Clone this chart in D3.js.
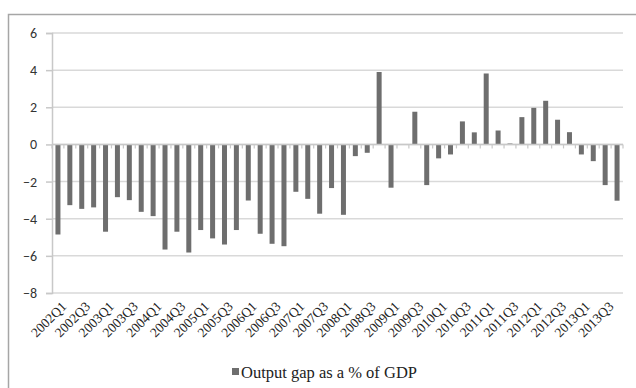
<!DOCTYPE html>
<html><head><meta charset="utf-8">
<script src="https://cdn.jsdelivr.net/npm/d3@7"></script>
<style>
html,body{margin:0;padding:0;background:#fff;}
svg{display:block;}
</style></head>
<body>
<svg id="chart" width="636" height="388"></svg>
<script>
const quarters = [];
for (let yr = 2002; yr <= 2013; yr++) for (let q = 1; q <= 4; q++) quarters.push(yr + "Q" + q);
const outputGap = [
  -4.85, -3.27, -3.47, -3.39,
  -4.70, -2.84, -3.00, -3.63,
  -3.86, -5.66, -4.70, -5.82,
  -4.61, -5.06, -5.39, -4.61,
  -3.02, -4.81, -5.35, -5.48,
  -2.55, -2.93, -3.73, -2.35,
  -3.79, -0.63, -0.45, 3.90,
  -2.33, 0.00, 1.76, -2.19,
  -0.75, -0.54, 1.24, 0.65,
  3.82, 0.75, 0.05, 1.47,
  1.97, 2.35, 1.33, 0.66,
  -0.54, -0.90, -2.19, -3.03
];
const yTicks = [-8, -6, -4, -2, 0, 2, 4, 6];
const xTickLabels = quarters.filter((d, i) => i % 2 === 0);
const seriesName = "Output gap as a % of GDP";

const svg = d3.select("#chart");
const plotLeft = 52, plotRight = 623, plotTop = 33, plotBottom = 293;

// outer frame
svg.append("rect").attr("x", 8.5).attr("y", 14.5).attr("width", 700).attr("height", 500)
  .attr("fill", "none").attr("stroke", "#a6a6a6").attr("stroke-width", 1.5);

const x = d3.scaleBand().domain(quarters).range([plotLeft, plotRight]).paddingInner(0.58).paddingOuter(0.29);
const y = d3.scaleLinear().domain([-8, 6]).range([plotBottom, plotTop]);

// gridlines
svg.append("g").selectAll("line").data(yTicks).join("line")
  .attr("x1", plotLeft).attr("x2", plotRight)
  .attr("y1", d => y(d)).attr("y2", d => y(d))
  .attr("stroke", "#d9d9d9").attr("stroke-width", 1.5);

// y axis
const yAxis = svg.append("g").attr("transform", `translate(${plotLeft},0)`)
  .call(d3.axisLeft(y).tickValues(yTicks).tickSize(6).tickPadding(9).tickFormat(d3.format("d")));
yAxis.select(".domain").attr("stroke", "#c8c8c8").attr("stroke-width", 1.5);
yAxis.selectAll(".tick line").attr("stroke", "#c8c8c8").attr("stroke-width", 1.5);
yAxis.selectAll(".tick text").attr("fill", "#333")
  .style("font-family", "Carlito, 'Liberation Sans', 'DejaVu Sans', sans-serif").style("font-size", "14px");

// bars
svg.append("g").selectAll("rect").data(quarters).join("rect")
  .attr("x", d => x(d))
  .attr("width", x.bandwidth())
  .attr("y", (d, i) => y(Math.max(0, outputGap[i])))
  .attr("height", (d, i) => Math.abs(y(outputGap[i]) - y(0)))
  .attr("fill", "#6e6e6e");

// x axis line at zero with minor ticks at category boundaries
const step = x.step();
const boundaries = quarters.map(d => x(d) - step * 0.29).concat([plotRight]);
const zeroG = svg.append("g");
zeroG.selectAll("line.mt").data(boundaries).join("line").attr("class", "mt")
  .attr("x1", d => d).attr("x2", d => d).attr("y1", y(0)).attr("y2", y(0) + 4)
  .attr("stroke", "#c8c8c8").attr("stroke-width", 1.2);
zeroG.append("line").attr("x1", plotLeft).attr("x2", plotRight).attr("y1", y(0)).attr("y2", y(0))
  .attr("stroke", "#c8c8c8").attr("stroke-width", 1.5);

// x tick labels (low position)
const xAxis = svg.append("g").attr("transform", `translate(0,${plotBottom + 11})`)
  .call(d3.axisBottom(x).tickValues(xTickLabels).tickSize(0).tickPadding(0));
xAxis.select(".domain").remove();
xAxis.selectAll(".tick text")
  .attr("text-anchor", "end")
  .attr("dy", "0.35em")
  .attr("transform", "translate(6,0) rotate(-45)")
  .attr("fill", "#222")
  .style("font-family", "'Liberation Serif', 'Times New Roman', serif").style("font-size", "13.5px");

// legend
const lg = svg.append("g");
lg.append("text").attr("x", 241).attr("y", 378)
  .attr("fill", "#222")
  .style("font-family", "'Liberation Serif', 'Times New Roman', serif").style("font-size", "16.5px")
  .text(seriesName);
lg.append("rect").attr("x", 232).attr("y", 368).attr("width", 7).attr("height", 7).attr("fill", "#6e6e6e");
</script>
</body></html>
